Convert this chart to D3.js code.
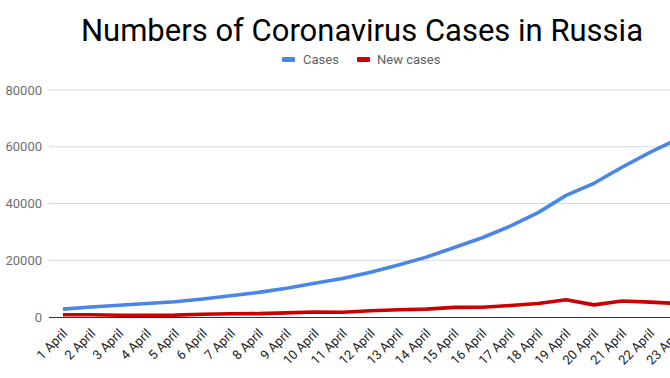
<!DOCTYPE html>
<html><head><meta charset="utf-8">
<script src="https://cdn.jsdelivr.net/npm/d3@7"></script>
<style>html,body{margin:0;padding:0;background:#fff;overflow:hidden}</style>
</head><body>
<svg id="c" width="670" height="378"></svg>
<script>
const days = ["1 April","2 April","3 April","4 April","5 April","6 April","7 April","8 April","9 April","10 April","11 April","12 April","13 April","14 April","15 April","16 April","17 April","18 April","19 April","20 April","21 April","22 April","23 April"];
const cases = [2777,3548,4149,4731,5389,6343,7497,8672,10131,11917,13584,15770,18328,21102,24490,27938,32008,36793,42853,47121,52763,57999,62773];
const newCases = [771,771,601,582,658,954,1154,1175,1459,1786,1667,2186,2558,2774,3388,3448,4070,4785,6060,4268,5642,5236,4774];
const yTicks = [0,20000,40000,60000,80000];
const seriesNames = ["Cases","New cases"];
const colors = ["#4a86e8","#cc0000"];

const svg = d3.select("#c");
const font = "Roboto, 'Noto Sans', sans-serif";
svg.append("rect").attr("width",670).attr("height",378).attr("fill","#fff");

const y = d3.scaleLinear().domain([0,80000]).range([317,90]);
const x = d3.scalePoint().domain(days).range([63, 63 + 27.95*(days.length-1)]);

// gridlines
svg.append("g").selectAll("line").data(yTicks.filter(d=>d>0)).join("line")
  .attr("x1",49).attr("x2",670).attr("y1",d=>y(d)).attr("y2",d=>y(d))
  .attr("stroke","#d9d9d9").attr("stroke-width",1);

// y labels
svg.append("g").selectAll("text").data(yTicks).join("text")
  .attr("x",42).attr("y",d=>y(d)).attr("dy","0.36em")
  .attr("text-anchor","end").attr("font-family",font).attr("font-size",13)
  .attr("fill","#6f6f6f").text(d=>d);

// lines
const line = d3.line().x((d,i)=>x(days[i])).y(d=>y(d));
[cases,newCases].forEach((s,k)=>{
  svg.append("path").datum(s).attr("d",line).attr("fill","none")
    .attr("stroke",colors[k]).attr("stroke-width",3.6)
    .attr("stroke-linejoin","round").attr("stroke-linecap","butt");
});

// baseline
svg.append("line").attr("x1",49).attr("x2",670).attr("y1",y(0)+0.5).attr("y2",y(0)+0.5)
  .attr("stroke","#333").attr("stroke-width",1);

// x labels
svg.append("g").selectAll("text").data(days).join("text")
  .attr("transform",d=>`translate(${x(d)+2},${y(0)+14}) rotate(-45)`)
  .attr("text-anchor","end").attr("dy","0.35em")
  .attr("font-family",font).attr("font-size",13).attr("fill","#222").text(d=>d);

// title
svg.append("text").attr("x",362).attr("y",41).attr("text-anchor","middle")
  .attr("font-family",font).attr("font-size",31).attr("fill","#000")
  .text("Numbers of Coronavirus Cases in Russia");

// legend
const leg = [{x:282,tx:303},{x:357,tx:377}];
seriesNames.forEach((n,k)=>{
  svg.append("rect").attr("x",leg[k].x).attr("y",57).attr("width",13).attr("height",5)
    .attr("rx",1).attr("fill",colors[k]);
  svg.append("text").attr("x",leg[k].tx).attr("y",59).attr("dy","0.35em")
    .attr("font-family",font).attr("font-size",13).attr("fill","#5f5f5f").text(n);
});
</script>
</body></html>
